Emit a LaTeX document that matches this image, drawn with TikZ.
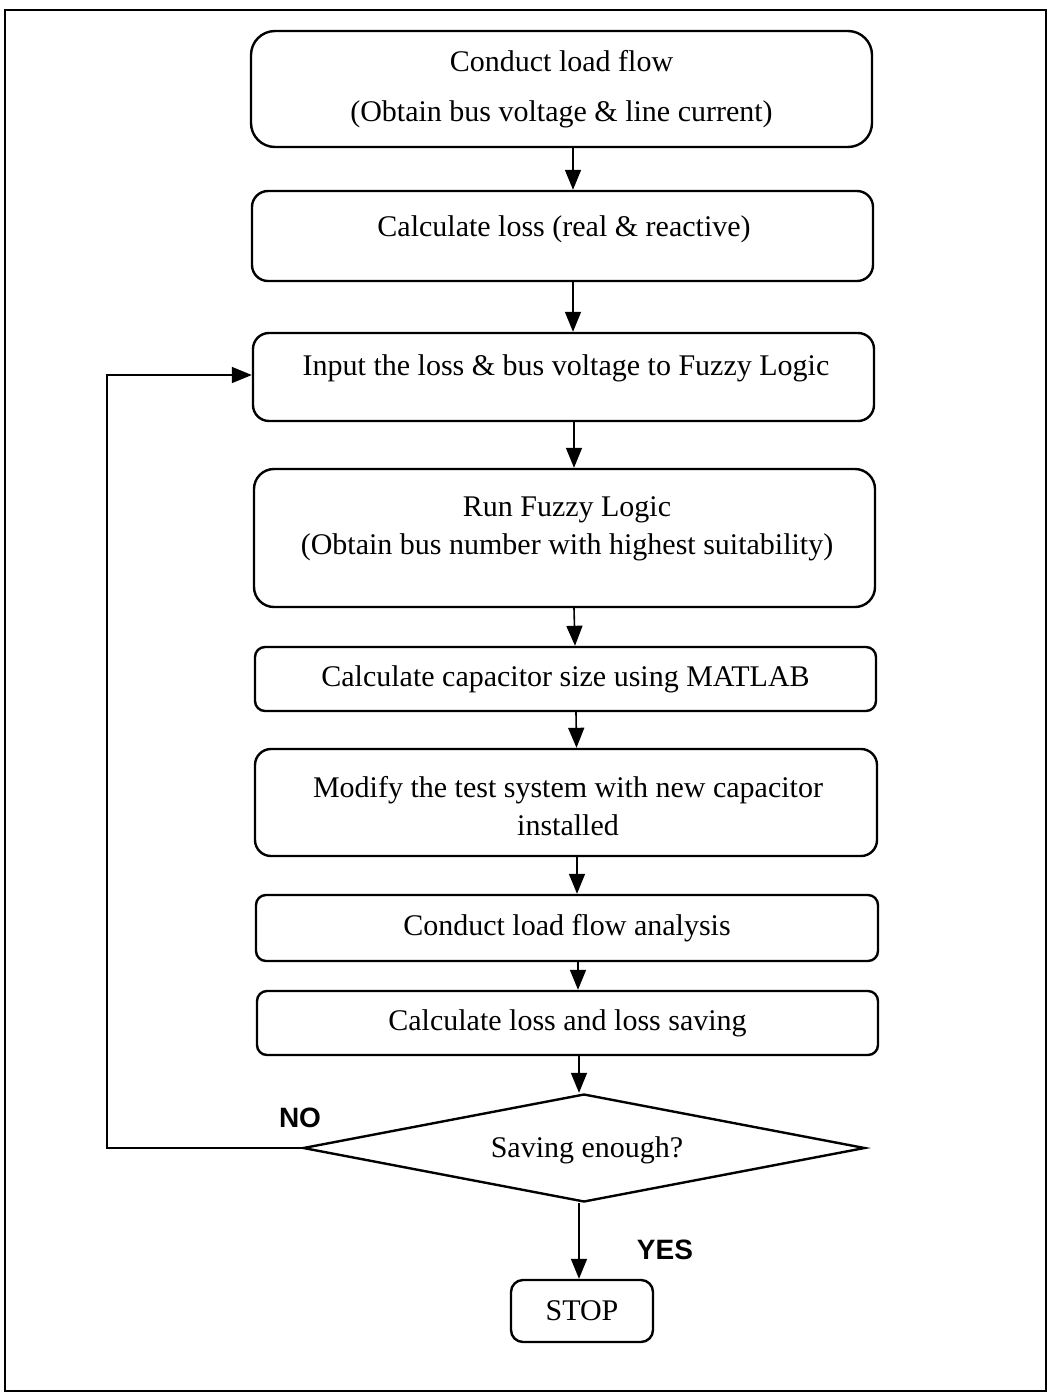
\documentclass[tikz,border=0pt]{standalone}
\usepackage{fontspec}
\setmainfont{Liberation Serif}
\setsansfont{Liberation Sans}
\usetikzlibrary{shapes.geometric,arrows.meta,calc}
\begin{document}
\begin{tikzpicture}[x=1pt,y=-1pt,
  every node/.style={font=\fontsize{30}{38}\selectfont},
  proc/.style={draw,line width=2.4pt,rounded corners=16pt,minimum width=621pt,inner sep=0pt,align=center},
  dec/.style={draw,line width=2.4pt,diamond,aspect=5.2,minimum width=562pt,minimum height=108pt,inner sep=0pt},
  lab/.style={font=\sffamily\bfseries\fontsize{28}{32}\selectfont},
  arr/.style={line width=1.6pt,-{Triangle[length=20pt,width=16pt]}}
]
\useasboundingbox (0,0) rectangle (1049,1393);
\draw[line width=1.6pt] (5,10) rectangle (1046,1391);

\node[proc,rounded corners=24pt,minimum height=116pt] (b1) at (561.5,89) {Conduct load flow\\[12pt](Obtain bus voltage \& line current)};
\node[proc,minimum height=90pt] (b2) at (562.5,236) {};
\node at (564,229) {Calculate loss (real \& reactive)};
\node[proc,minimum height=88pt] (b3) at (563.5,377) {};
\node at (566,368) {Input the loss \& bus voltage to Fuzzy Logic};
\node[proc,rounded corners=20pt,minimum height=138pt] (b4) at (564.5,538) {};
\node[align=center] at (567,529) {Run Fuzzy Logic\\(Obtain bus number with highest suitability)};
\node[proc,rounded corners=10pt,minimum height=64pt] (b5) at (565.5,679) {Calculate capacitor size using MATLAB};
\node[proc,minimum width=622pt,minimum height=107pt] (b6) at (566,802.5) {};
\node[align=center] at (568,806) {Modify the test system with new capacitor\\installed};
\node[proc,rounded corners=10pt,minimum width=622pt,minimum height=66pt] (b7) at (567,928) {Conduct load flow analysis};
\node[proc,rounded corners=10pt,minimum height=64pt] (b8) at (567.5,1023) {Calculate loss and loss saving};
\node[dec] (d) at (584,1148) {};
\node at (587,1150) {Saving enough?};
\node[proc,rounded corners=12pt,minimum width=142pt,minimum height=62pt] (s) at (582,1311) {STOP};

\node[lab] (no) at (300,1118) {NO};
\node[lab] (yes) at (665,1250) {YES};

\draw[arr] ([xshift=11.5pt]b1.south) -- ([xshift=10.5pt]b2.north);
\draw[arr] ([xshift=10.5pt]b2.south) -- ([xshift=9.5pt]b3.north);
\draw[arr] ([xshift=10.5pt]b3.south) -- ([xshift=9.5pt]b4.north);
\draw[arr] ([xshift=9.5pt]b4.south) -- ([xshift=9.5pt]b5.north);
\draw[arr] ([xshift=10.5pt]b5.south) -- ([xshift=10.5pt]b6.north);
\draw[arr] ([xshift=11pt]b6.south) -- ([xshift=10pt]b7.north);
\draw[arr] ([xshift=11pt]b7.south) -- ([xshift=10.5pt]b8.north);
\draw[arr] ([xshift=11.5pt]b8.south) -- ([xshift=-5pt]d.north);
\draw[arr] ([xshift=-5pt]d.south) -- ([xshift=-3pt]s.north);
\coordinate (lx) at (107,0);
\draw[arr] (d.west) -- (d.west -| lx) -- ([yshift=2pt]b3.west -| lx) -- ([yshift=2pt]b3.west);
\end{tikzpicture}
\end{document}
